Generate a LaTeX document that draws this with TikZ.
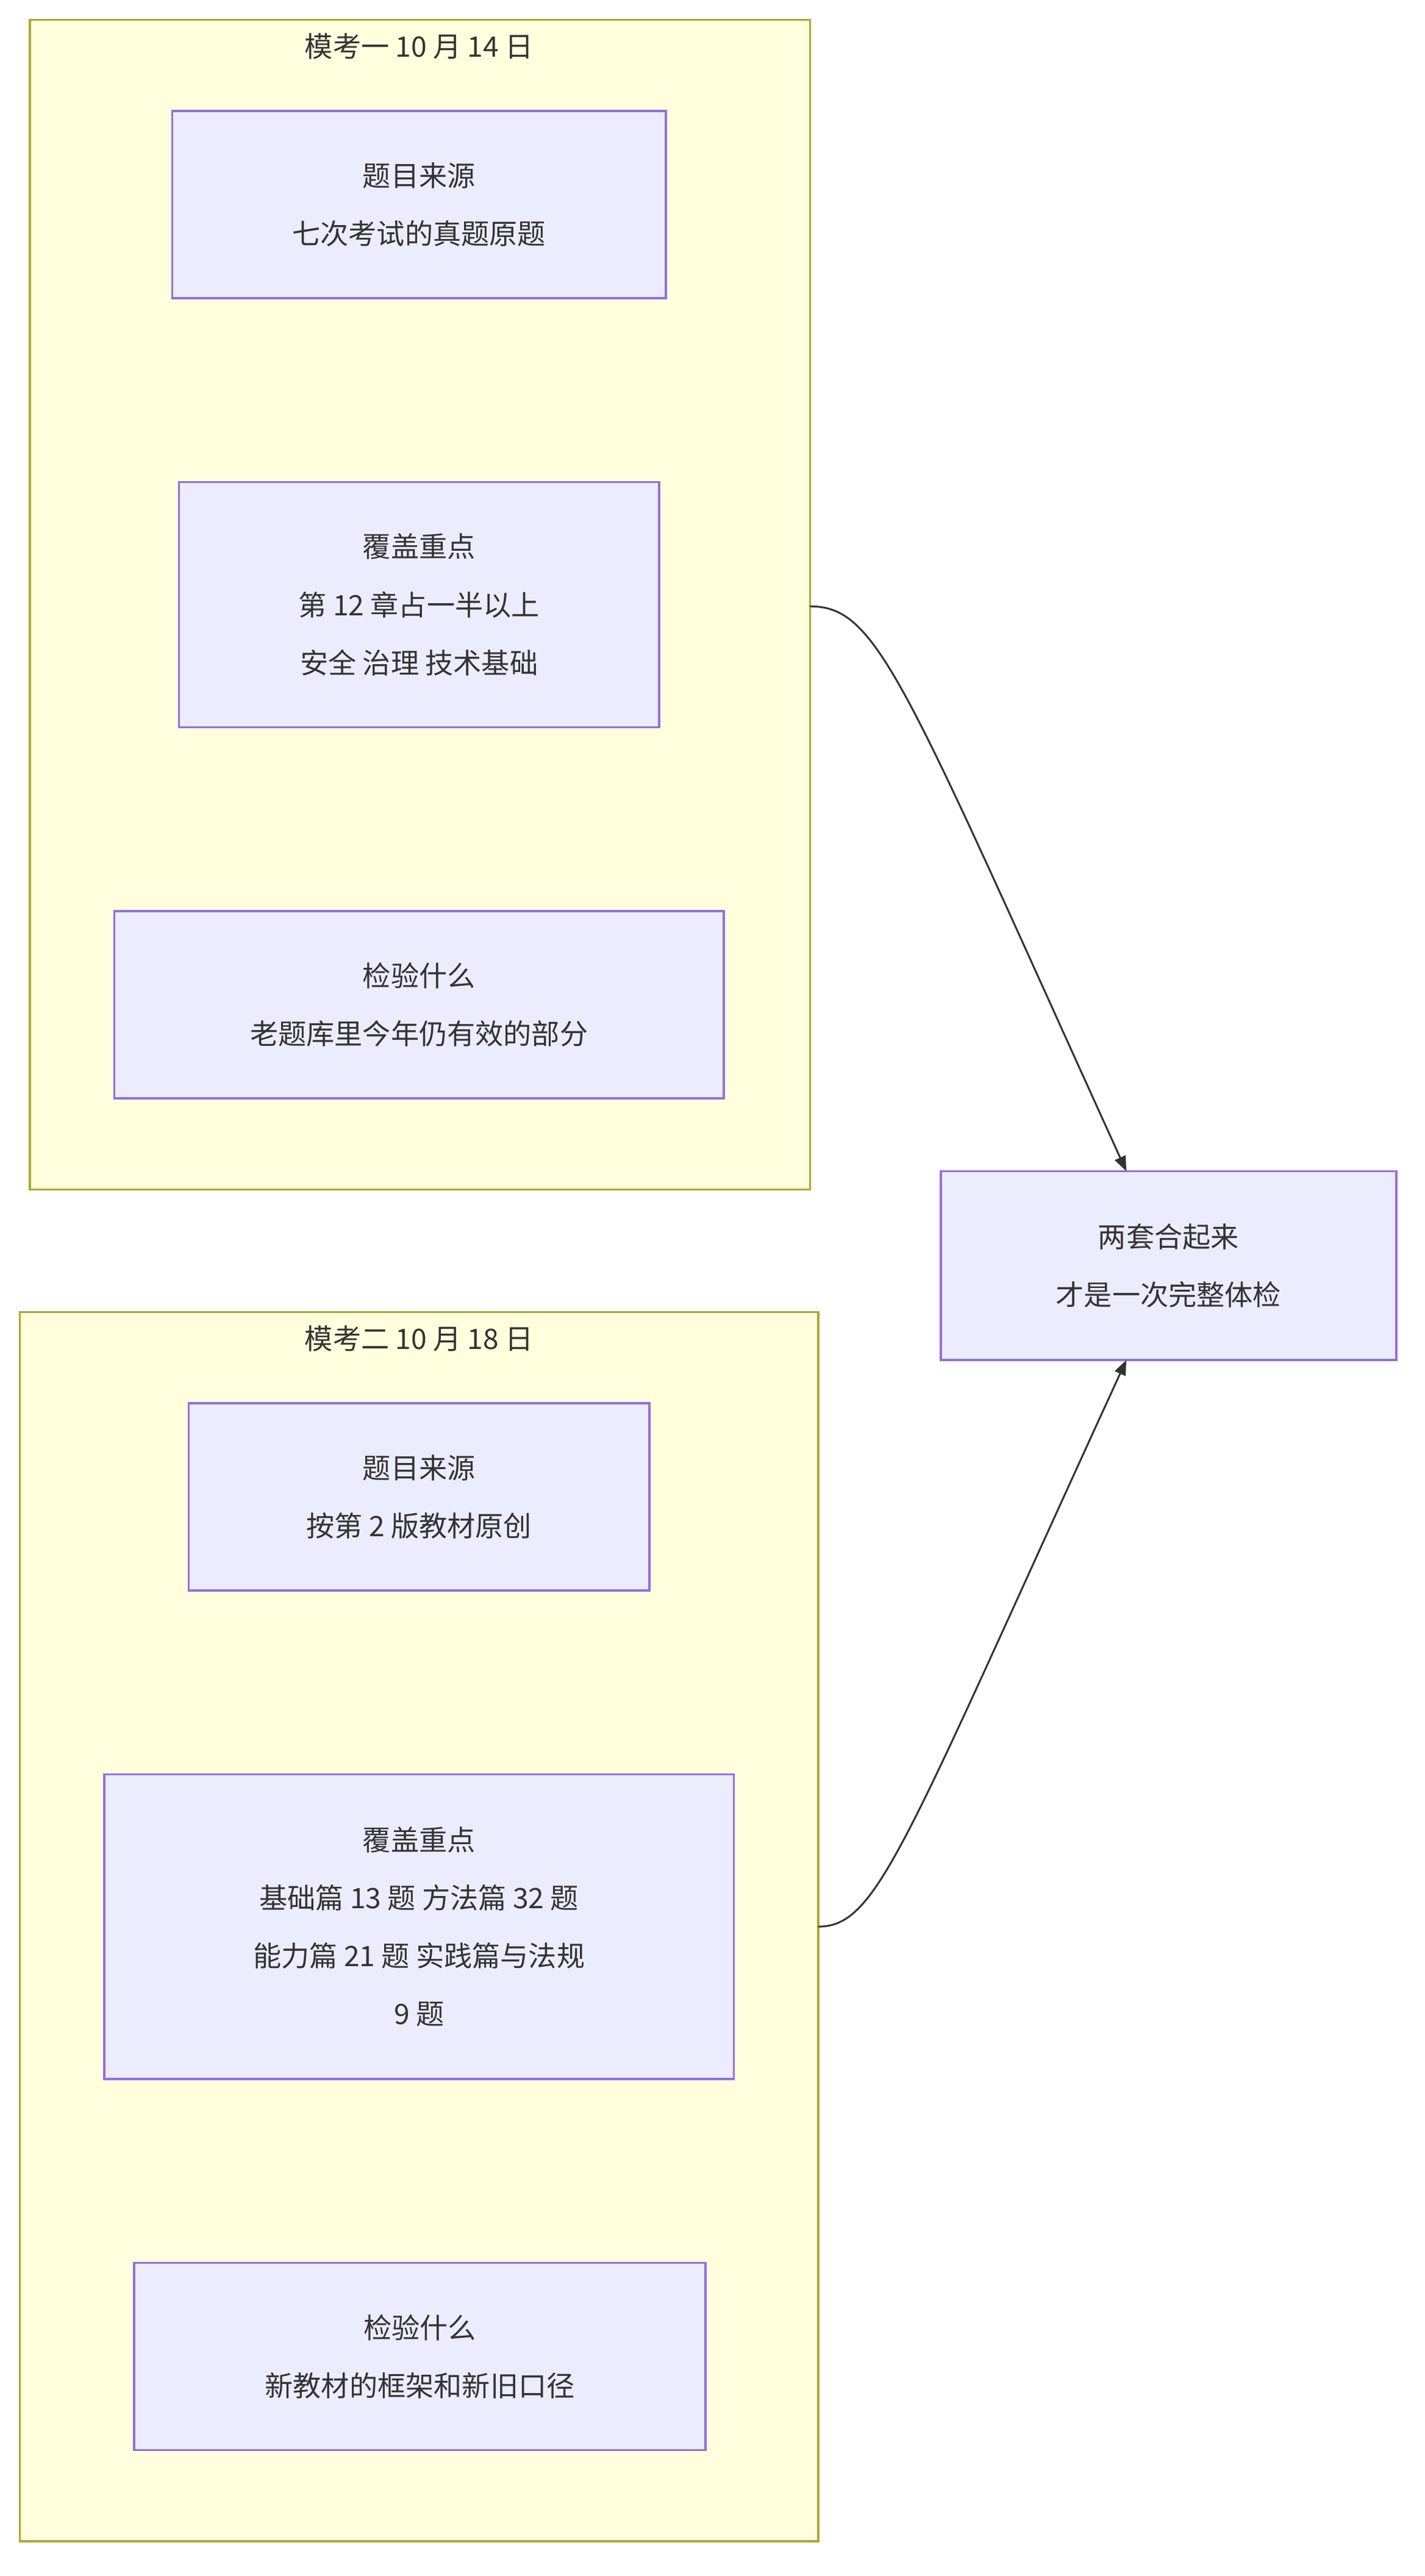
\documentclass[tikz,border=0pt]{standalone}
\usepackage{fontspec}
\setmainfont{Noto Sans CJK SC}
\usetikzlibrary{arrows.meta}
\begin{document}
\begin{tikzpicture}[x=1pt,y=-1pt,
  clus/.style={draw= clusborder, fill=clusfill, line width=1.3pt},
  box/.style={draw=nodeborder, fill=nodefill, line width=1.3pt, text=txt, align=center, font=\fontsize{17}{35}\selectfont},
  ttl/.style={text=txt, font=\fontsize{17}{20}\selectfont},
  edge/.style={draw=txt, line width=1.1pt, -{Triangle[length=9pt,width=7pt]}}]
\definecolor{clusfill}{HTML}{FFFFDE}
\definecolor{clusborder}{HTML}{AAAA33}
\definecolor{nodefill}{HTML}{ECECFF}
\definecolor{nodeborder}{HTML}{9370DB}
\definecolor{txt}{HTML}{333333}
\useasboundingbox (0,0) rectangle (860,1555);
\draw[clus] (18,12) rectangle (489,718);
\node[ttl] (t1) at (253,28) {模考一 10 月 14 日};
\draw[clus] (12,792) rectangle (494,1534);
\node[ttl] (t2) at (253,808) {模考二 10 月 18 日};
\node[box, minimum width=298pt, minimum height=113pt] (a1) at (253,123.5) {题目来源\\七次考试的真题原题};
\node[box, minimum width=290pt, minimum height=148pt] (a2) at (253,365) {覆盖重点\\第 12 章占一半以上\\安全 治理 技术基础};
\node[box, minimum width=368pt, minimum height=113pt] (a3) at (253,606.5) {检验什么\\老题库里今年仍有效的部分};
\node[box, minimum width=278pt, minimum height=113pt] (b1) at (253,903.5) {题目来源\\按第 2 版教材原创};
\node[box, minimum width=380pt, minimum height=184pt] (b2) at (253,1163) {覆盖重点\\基础篇 13 题 方法篇 32 题\\能力篇 21 题 实践篇与法规\\9 题};
\node[box, minimum width=345pt, minimum height=113pt] (b3) at (253.5,1422.5) {检验什么\\新教材的框架和新旧口径};
\node[box, minimum width=275pt, minimum height=114pt] (t) at (705.5,764) {两套合起来\\才是一次完整体检};
\coordinate (c1) at (489,366);
\coordinate (c2) at (494,1163);
\coordinate (e1) at (680,707);
\coordinate (e2) at (680,821);
\draw[edge] (c1) .. controls (530,366) and (545,410) .. (e1);
\draw[edge] (c2) .. controls (530,1163) and (545,1115) .. (e2);
\end{tikzpicture}
\end{document}
